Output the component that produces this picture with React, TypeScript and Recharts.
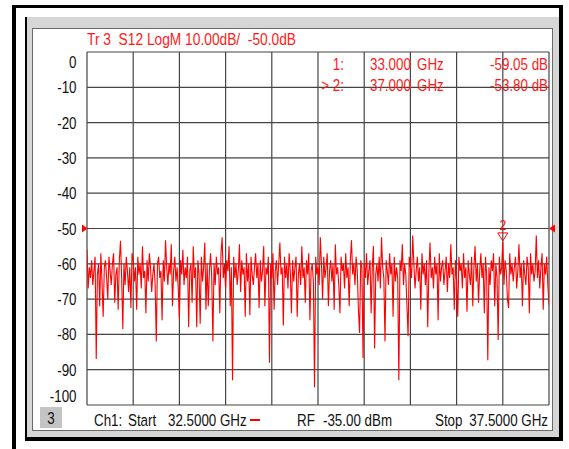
import React from 'react';
import { LineChart, Line, XAxis, YAxis, CartesianGrid, ReferenceDot } from 'recharts';

// Sweep: 32.5 GHz -> 37.5 GHz, 401 points
const START_GHZ = 32.5;
const STOP_GHZ = 37.5;
const STEP_GHZ = 0.0125;

// S12 LogM trace values (dB)
const s12dB: number[] = [
  -56, -67, -61, -64, -59, -66, -62, -58, -87, -63,
  -60, -72, -57, -65, -75, -61, -59, -64, -70, -58,
  -62, -66, -60, -57, -71, -63, -61, -73, -59, -53.5,
  -64, -78.5, -60, -66, -58, -62, -68, -61, -72.5, -57,
  -59.05, -65, -61, -73, -58, -63, -60, -67, -55, -64,
  -62, -74, -59, -65, -57, -61, -68, -63, -60, -66,
  -82, -60, -58, -64, -62, -76, -59, -65, -53.3, -61,
  -66, -60, -63, -54.5, -72, -62, -58, -65, -61, -67,
  -75.5, -59, -63, -56, -66, -61, -64, -58, -78, -62,
  -60, -71, -55, -64, -61, -78, -59, -63, -77, -58,
  -65, -61, -54, -73, -60, -72, -62, -57, -64, -82,
  -60, -66, -58, -63, -61, -74, -57, -52.5, -64, -60,
  -67, -59, -62, -55, -72, -61, -93, -58, -64, -60,
  -66, -62, -54.5, -68, -59, -63, -61, -75, -57, -65,
  -60, -74.5, -58, -63, -66, -61, -57, -64, -60, -72.5,
  -59, -65, -62, -55, -72, -61, -63, -58, -88, -60,
  -64, -57, -73, -62, -59, -66, -60, -54, -63, -61,
  -77.5, -58, -64, -60, -67, -57, -62, -74, -59, -65,
  -61, -58, -75, -63, -60, -66, -55, -64, -61, -71,
  -59, -63, -57, -76, -62, -60, -65, -95, -58, -63,
  -61, -66, -52.5, -60, -70, -58, -64, -61, -57, -72,
  -62, -59, -65, -60, -73, -54.5, -63, -61, -66, -74,
  -58, -62, -60, -67, -57, -64, -61, -72, -59, -53.3,
  -63, -60, -66, -58, -62, -73, -79.6, -59, -61, -86.7,
  -60, -64, -57, -66, -62, -59, -74, -61, -55, -84,
  -63, -60, -65, -58, -67, -52.5, -61, -64, -82, -59,
  -62, -66, -57, -63, -60, -75, -58, -65, -61, -64,
  -93, -59, -62, -54.5, -66, -60, -63, -72, -80.5, -58,
  -61, -64, -52, -60, -67, -62, -58, -65, -61, -73,
  -57, -63, -60, -66, -59, -78, -62, -54, -64, -61,
  -67, -58, -63, -60, -76, -57, -65, -61, -59, -66,
  -62, -58, -68, -60, -64, -54.5, -63, -61, -73, -59,
  -65, -75, -58, -62, -60, -67, -57, -64, -61, -73.6,
  -59, -63, -66, -58, -72, -61, -55, -65, -60, -71,
  -62, -57, -64, -60, -74, -58, -63, -87.3, -61, -66,
  -59, -62, -57, -72, -60, -64, -81.6, -58, -63, -61,
  -53.8, -66, -59, -62, -70, -72.5, -57, -63, -60, -65,
  -61, -58, -67, -62, -54.5, -64, -60, -72, -59, -63,
  -66, -58, -61, -74, -57, -63, -60, -65, -62, -52,
  -64, -59, -67, -61, -57, -73, -60, -63, -58, -66,
  -71.7,
];

const freqTicks: number[] = [32.5, 33, 33.5, 34, 34.5, 35, 35.5, 36, 36.5, 37, 37.5];
const dbTicks: number[] = [0, -10, -20, -30, -40, -50, -60, -70, -80, -90, -100];

const REF_LEVEL_DB = -50;
const markerFreqs: number[] = [33.0, 37.0];
const markerValues: number[] = [-59.05, -53.8];

const data = s12dB.map((v, i) => ({ f: Number((START_GHZ + i * STEP_GHZ).toFixed(4)), v }));

const FONT = "'Liberation Sans', Arial, sans-serif";
const SX = 0.81;
const RED = '#ff1a1a';

const T = ({ x, y, anchor = 'start', color = '#111', size = 16.5, children }: any) => (
  <text
    transform={`translate(${x},${y}) scale(${SX},1)`}
    textAnchor={anchor}
    fontFamily={FONT}
    fontSize={size}
    fill={color}
    xmlSpace="preserve"
    style={{ whiteSpace: 'pre' }}
  >
    {children}
  </text>
);

const YTick = (props: any) => {
  const { x, y, payload } = props;
  const v = payload.value;
  const dy = v === 0 ? 16 : v === -100 ? -3 : 6;
  return (
    <text
      transform={`translate(${x},${y + dy}) scale(${SX},1)`}
      textAnchor="end"
      fontFamily={FONT}
      fontSize={16.5}
      fill="#111"
    >
      {String(v)}
    </text>
  );
};

const EmptyTick = () => <g />;

const RefLeft = (p: any) => (
  <path d={`M${p.cx - 5},${p.cy - 4} L${p.cx + 0.5},${p.cy} L${p.cx - 5},${p.cy + 4} Z`} fill="#ff0000" />
);
const RefRight = (p: any) => (
  <path d={`M${p.cx + 6},${p.cy - 4} L${p.cx},${p.cy} L${p.cx + 6},${p.cy + 4} Z`} fill="#ff0000" />
);
const Marker2 = (p: any) => (
  <g>
    <path
      d={`M${p.cx - 5},${p.cy - 9} L${p.cx + 5},${p.cy - 9} L${p.cx},${p.cy - 1} Z`}
      fill="none"
      stroke="#ff0000"
      strokeWidth={1}
    />
    <text
      transform={`translate(${p.cx},${p.cy - 12}) scale(${SX},1)`}
      textAnchor="middle"
      fontFamily={FONT}
      fontSize={15}
      fill="#ff0000"
    >
      2
    </text>
  </g>
);

export default function App() {
  return (
    <div style={{ position: 'absolute', left: 0, top: 0, width: 569, height: 449, background: '#fff', overflow: 'hidden' }}>
      {/* instrument frame */}
      <svg width={569} height={449} style={{ position: 'absolute', left: 0, top: 0 }}>
        <rect x={12} y={5} width={4} height={444} fill="#000" />
        <rect x={12} y={5} width={551} height={3} fill="#000" />
        <rect x={25} y={17} width={535} height={424} fill="#d6d6d6" />
        <rect x={25} y={17} width={2} height={424} fill="#000" />
        <rect x={25} y={437} width={538} height={4} fill="#000" />
        <rect x={559} y={5} width={4} height={436} fill="#000" />
        <rect x={32.5} y={28.5} width={520} height={402} fill="#fff" stroke="#6a6a6a" strokeWidth={1} />
        <rect x={40} y={407} width={22} height={21} fill="#c4c4c4" />
      </svg>

      <div style={{ position: 'absolute', left: 0, top: 0 }}>
        <LineChart
          width={569}
          height={449}
          data={data}
          margin={{ top: 52, right: 20, bottom: 44, left: 27 }}
        >
          <CartesianGrid
            stroke="#444"
            strokeWidth={1.2}
            verticalValues={freqTicks}
            horizontalValues={dbTicks}
          />
          <XAxis
            dataKey="f"
            type="number"
            domain={[START_GHZ, STOP_GHZ]}
            ticks={freqTicks}
            interval={0}
            tick={<EmptyTick />}
            tickLine={false}
            axisLine={false}
            height={0}
            allowDataOverflow
          />
          <YAxis
            type="number"
            domain={[-100, 0]}
            ticks={dbTicks}
            interval={0}
            width={60}
            tickSize={0}
            tickMargin={10.5}
            axisLine={false}
            tickLine={false}
            tick={<YTick />}
            allowDataOverflow
          />
          <Line
            dataKey="v"
            type="linear"
            stroke="#ff0000"
            strokeWidth={1.1}
            dot={false}
            isAnimationActive={false}
          />
          <ReferenceDot x={START_GHZ} y={REF_LEVEL_DB} ifOverflow="visible" shape={<RefLeft />} />
          <ReferenceDot x={STOP_GHZ} y={REF_LEVEL_DB} ifOverflow="visible" shape={<RefRight />} />
          <ReferenceDot x={markerFreqs[1]} y={markerValues[1]} ifOverflow="visible" shape={<Marker2 />} />
        </LineChart>
      </div>

      {/* annotations */}
      <svg width={569} height={449} style={{ position: 'absolute', left: 0, top: 0, pointerEvents: 'none' }}>
        <T x={87} y={45} color={RED} size={17}>{'Tr 3  S12 LogM 10.00dB/  -50.0dB'}</T>

        <T x={344} y={70} anchor="end" color={RED}>1:</T>
        <T x={370} y={70} color={RED}>{markerFreqs[0].toFixed(3)}</T>
        <T x={417} y={70} color={RED}>GHz</T>
        <T x={548} y={70} anchor="end" color={RED}>{`${markerValues[0].toFixed(2)} dB`}</T>

        <T x={344} y={91} anchor="end" color={RED}>{'> 2:'}</T>
        <T x={370} y={91} color={RED}>{markerFreqs[1].toFixed(3)}</T>
        <T x={417} y={91} color={RED}>GHz</T>
        <T x={548} y={91} anchor="end" color={RED}>{`${markerValues[1].toFixed(2)} dB`}</T>

        <T x={51} y={424} anchor="middle">3</T>
        <T x={94} y={426}>Ch1:</T>
        <T x={128} y={426}>Start</T>
        <T x={168} y={426}>{`${START_GHZ.toFixed(4)} GHz`}</T>
        <rect x={250} y={419} width={10} height={2} fill="#ff0000" />
        <T x={297} y={426}>RF</T>
        <T x={323} y={426}>-35.00 dBm</T>
        <T x={435} y={426}>Stop</T>
        <T x={548} y={426} anchor="end">{`${STOP_GHZ.toFixed(4)} GHz`}</T>
      </svg>
    </div>
  );
}
